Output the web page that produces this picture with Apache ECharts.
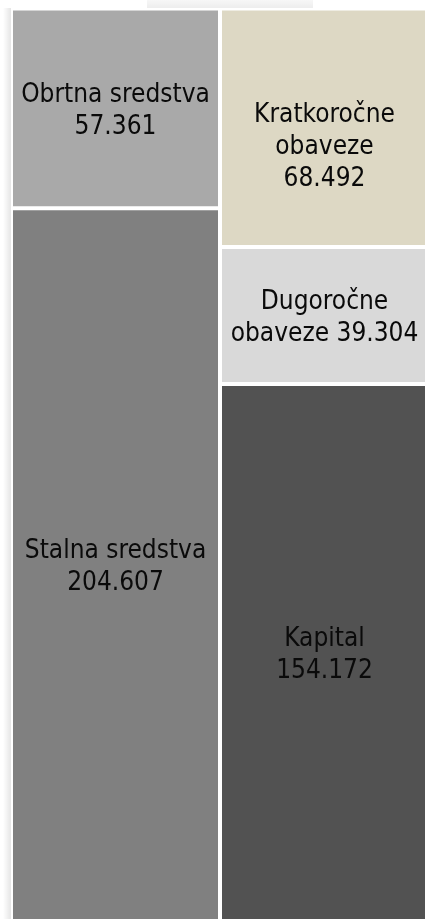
<!DOCTYPE html>
<html>
<head>
<meta charset="utf-8">
<script src="https://cdn.jsdelivr.net/npm/echarts@6/dist/echarts.min.js"></script>
<style>
  html, body { margin: 0; padding: 0; background: #ffffff; }
  #chart { width: 425px; height: 919px; }
</style>
</head>
<body>
<div id="chart"></div>
<script>
// Balance sheet: assets (left column) against liabilities and equity (right column)
const sides = ['Aktiva', 'Pasiva'];

// Assets, bottom to top
const assetNames = ['Stalna sredstva', 'Obrtna sredstva'];
const assetLines = [['Stalna sredstva'], ['Obrtna sredstva']];
const assetValues = [204607, 57361];
const assetColors = ['#808080', '#a9a9a9'];

// Liabilities and equity, bottom to top
const liabNames = ['Kapital', 'Dugoročne obaveze', 'Kratkoročne obaveze'];
const liabLines = [['Kapital'], ['Dugoročne', 'obaveze'], ['Kratkoročne', 'obaveze']];
const liabValues = [154172, 39304, 68492];
const liabColors = ['#525252', '#d9d9d9', '#ddd8c4'];

const fmt = v => String(v).replace(/\B(?=(\d{3})+(?!\d))/g, '.');

const totalAssets = assetValues.reduce((a, b) => a + b, 0);
const totalLiab = liabValues.reduce((a, b) => a + b, 0);
const total = Math.max(totalAssets, totalLiab);

const FONT = '"DejaVu Sans Condensed", "DejaVu Sans", sans-serif';

function makeSeries(names, lines, values, colors, sideIndex) {
  return names.map((name, i) => {
    const data = sides.map((s, k) => (k === sideIndex ? values[i] : '-'));
    // "obaveze" and the value share a line for the long-term debt block
    const textLines = lines[i].slice();
    if (name === 'Dugoročne obaveze') {
      textLines[textLines.length - 1] += ' ' + fmt(values[i]);
    } else {
      textLines.push(fmt(values[i]));
    }
    return {
      name: name,
      type: 'bar',
      stack: 'bilans',
      data: data,
      barCategoryGap: '0%',
      itemStyle: { color: colors[i], borderColor: '#ffffff', borderWidth: 2 },
      label: {
        show: true,
        position: 'inside',
        offset: name === 'Kratkoročne obaveze' ? [0, 19] : [0, 3],
        formatter: textLines.join('\n'),
        color: '#0a0a0a',
        fontFamily: FONT,
        fontSize: 26,
        lineHeight: 32,
        align: 'center'
      },
      emphasis: { disabled: true },
      silent: true,
      animation: false
    };
  });
}

const series = [
  ...makeSeries(assetNames, assetLines, assetValues, assetColors, 0),
  ...makeSeries(liabNames, liabLines, liabValues, liabColors, 1)
];

const chart = echarts.init(document.getElementById('chart'), null, { renderer: 'canvas' });
chart.setOption({
  animation: false,
  backgroundColor: '#ffffff',
  grid: { left: 11, width: 418, top: 8.5, height: 912.5, outerBoundsMode: 'none', containLabel: false },
  xAxis: {
    type: 'category',
    data: sides,
    show: false
  },
  yAxis: {
    type: 'value',
    min: 0,
    max: total,
    show: false
  },
  graphic: [
    {
      // soft shadow along the left edge
      type: 'rect',
      shape: { x: 3, y: 8, width: 8, height: 911 },
      style: {
        fill: new echarts.graphic.LinearGradient(0, 0, 1, 0, [
          { offset: 0, color: 'rgba(0,0,0,0)' },
          { offset: 1, color: 'rgba(0,0,0,0.10)' }
        ])
      },
      silent: true,
      z: -1
    },
    {
      // faint band above the columns
      type: 'rect',
      shape: { x: 147, y: 0, width: 166, height: 8 },
      style: {
        fill: new echarts.graphic.LinearGradient(0, 0, 0, 1, [
          { offset: 0, color: 'rgba(0,0,0,0.03)' },
          { offset: 1, color: 'rgba(0,0,0,0.07)' }
        ])
      },
      silent: true,
      z: -1
    }
  ],
  series: series
});
</script>
</body>
</html>
